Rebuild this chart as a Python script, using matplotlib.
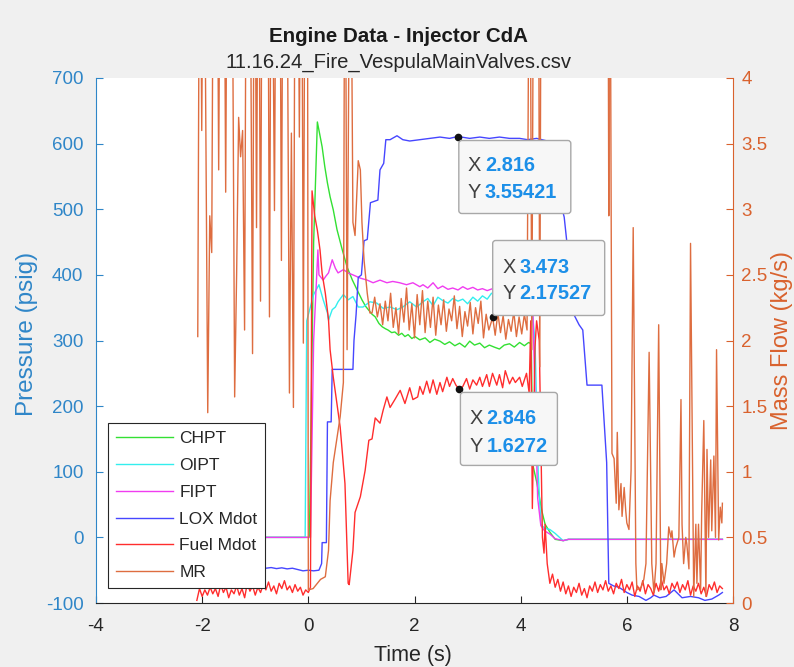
import matplotlib
matplotlib.use('Agg')
import matplotlib.pyplot as plt
from matplotlib.patches import FancyBboxPatch
from matplotlib.transforms import IdentityTransform

plt.rcParams['font.family'] = ['Liberation Sans', 'DejaVu Sans']
plt.rcParams['axes.unicode_minus'] = False

# ---------------- data ----------------
chpt_t = [-2.1, 0.0, 0.02, 0.1, 0.17, 0.22, 0.26, 0.31, 0.36, 0.41, 0.47, 0.54, 0.64, 0.73, 0.83, 0.92,
          1.01, 1.08, 1.13, 1.2, 1.26, 1.33, 1.39, 1.45, 1.5, 1.57, 1.63, 1.7, 1.76, 1.82, 1.88, 1.95,
          2.01, 2.1, 2.2, 2.29, 2.38, 2.48, 2.57, 2.66, 2.76, 2.85, 2.95, 3.04, 3.13, 3.23, 3.32, 3.41,
          3.5, 3.6, 3.69, 3.79, 3.88, 3.98, 4.07, 4.15, 4.2, 4.23, 4.3, 4.4, 4.46, 4.55, 4.65, 4.8, 4.9, 7.8]
chpt_p = [0, 0, 0, 450, 633, 612, 595, 565, 540, 519, 499, 469, 438, 412, 392, 377,
          362, 352, 347, 340, 336, 326, 321, 318, 316, 312, 313, 308, 311, 306, 309, 303,
          306, 301, 304, 297, 302, 299, 294, 298, 292, 296, 290, 299, 293, 296, 289, 293,
          290, 287, 293, 295, 290, 297, 292, 297, 295, 110, 85, 40, 20, 8, -3, -5, -3, -3]

oipt_t = [-2.1, -0.06, -0.03, 0.1, 0.2, 0.28, 0.36, 0.38, 0.45, 0.51, 0.56, 0.66, 0.75, 0.84, 0.94,
          1.03, 1.16, 1.29, 1.41, 1.54, 1.67, 1.78, 1.91, 2.04, 2.16, 2.25, 2.35, 2.44, 2.53, 2.63,
          2.72, 2.82, 2.91, 3.0, 3.1, 3.19, 3.28, 3.37, 3.45, 3.6, 3.8, 4.0, 4.2, 4.27, 4.33, 4.38,
          4.45, 4.55, 4.65, 4.8, 4.9, 7.8]
oipt_p = [0, 0, 330, 370, 385, 362, 342, 331, 347, 351, 359, 370, 362, 367, 351,
          351, 359, 357, 349, 351, 347, 351, 359, 351, 359, 364, 353, 366, 361, 357,
          364, 360, 363, 356, 366, 360, 368, 363, 372, 365, 362, 364, 360, 300, 100, 20,
          14, 12, 6, -5, -3, -3]

fipt_t = [-2.1, 0.04, 0.1, 0.18, 0.2, 0.28, 0.33, 0.38, 0.45, 0.51, 0.56, 0.66, 0.75, 0.84, 0.98,
          1.11, 1.22, 1.35, 1.48, 1.59, 1.72, 1.85, 1.97, 2.1, 2.16, 2.25, 2.35, 2.44, 2.53, 2.63,
          2.72, 2.82, 2.91, 3.0, 3.1, 3.19, 3.28, 3.37, 3.47, 3.7, 3.9, 4.1, 4.22, 4.26, 4.32, 4.38,
          4.45, 4.55, 4.65, 4.8, 4.9, 7.8]
fipt_p = [0, 0, 300, 438, 400, 392, 398, 403, 423, 410, 403, 408, 403, 400, 395,
          392, 388, 392, 388, 390, 388, 385, 388, 382, 385, 380, 388, 379, 383, 378,
          380, 377, 382, 378, 381, 377, 379, 376, 379, 378, 379, 377, 378, 250, 60, 18,
          10, 5, -2, -5, -3, -3]

lox_t = [-2.1, -1.5, -1.0, -0.8, -0.7, -0.6, -0.5, -0.4, -0.3, -0.2, -0.1, 0.0, 0.1, 0.2, 0.25,
         0.26, 0.34, 0.36, 0.43, 0.45, 0.84, 0.86, 0.9, 0.94, 1.0, 1.05, 1.11, 1.17, 1.31, 1.35,
         1.42, 1.46, 1.54, 1.67, 1.78, 1.91, 2.1, 2.29, 2.48, 2.66, 2.816, 3.04, 3.23, 3.41, 3.6,
         3.79, 3.98, 4.13, 4.3, 4.5, 4.62, 4.72, 4.82, 4.92, 5.0, 5.1, 5.17, 5.25, 5.53, 5.62,
         5.66, 5.75, 5.85, 6.0, 6.1, 6.23, 6.36, 6.45, 6.51, 6.62, 6.74, 6.89, 7.04, 7.2, 7.35,
         7.47, 7.6, 7.73, 7.8]
lox_m = [0.27, 0.27, 0.275, 0.265, 0.27, 0.262, 0.268, 0.26, 0.265, 0.255, 0.245, 0.25, 0.245, 0.25, 0.30,
         0.46, 0.46, 1.38, 1.38, 1.78, 1.78, 2.0, 2.2, 2.48, 2.5, 2.76, 2.77, 3.05, 3.07, 3.3,
         3.35, 3.53, 3.53, 3.56, 3.53, 3.52, 3.53, 3.54, 3.55, 3.54, 3.55421, 3.54, 3.55, 3.54, 3.55,
         3.54, 3.54, 3.53, 3.54, 3.52, 3.3, 3.1, 2.94, 2.56, 2.2, 2.12, 2.08, 1.66, 1.66, 1.07,
         0.15, 0.13, 0.12, 0.08, 0.06, 0.05, 0.02, 0.04, 0.06, 0.04, 0.05, 0.1, 0.04, 0.05, 0.04,
         0.02, 0.03, 0.06, 0.08]

fuel_pre_t = [-2.1, -2.05, -2.0, -1.95, -1.9, -1.85, -1.8, -1.75, -1.7, -1.65, -1.6, -1.55, -1.5, -1.45,
              -1.4, -1.35, -1.3, -1.25, -1.2, -1.15, -1.1, -1.05, -1.0, -0.95, -0.9, -0.85, -0.8, -0.75,
              -0.7, -0.65, -0.6, -0.55, -0.5, -0.45, -0.4, -0.35, -0.3, -0.25, -0.2, -0.15, -0.1, -0.05,
              0.0, 0.04]
fuel_pre_m = [0.02, 0.11, 0.05, 0.1, 0.06, 0.12, 0.07, 0.11, 0.05, 0.14, 0.08, 0.12, 0.04, 0.1,
              0.07, 0.13, 0.06, 0.11, 0.04, 0.15, 0.09, 0.13, 0.06, 0.12, 0.08, 0.14, 0.1, 0.16,
              0.09, 0.13, 0.07, 0.15, 0.11, 0.17, 0.1, 0.13, 0.08, 0.14, 0.09, 0.12, 0.06, 0.1,
              0.08, 0.12]
fuel_burn_t = [0.07, 0.12, 0.17, 0.22, 0.26, 0.32, 0.38, 0.41, 0.47, 0.6, 0.69, 0.75, 0.77, 0.84, 0.88,
               0.98, 1.07, 1.14, 1.2, 1.26, 1.35, 1.41, 1.48, 1.54, 1.63, 1.73, 1.82, 1.91, 1.97, 2.06,
               2.1, 2.16, 2.23, 2.29, 2.35, 2.42, 2.48, 2.53, 2.61, 2.66, 2.72, 2.78, 2.846, 2.91, 2.98,
               3.04, 3.1, 3.17, 3.23, 3.28, 3.36, 3.41, 3.47, 3.55, 3.6, 3.66, 3.71, 3.79, 3.85, 3.9,
               3.98, 4.03, 4.11]
fuel_burn_m = [3.14, 2.95, 2.84, 2.69, 2.51, 2.36, 2.16, 1.93, 1.72, 1.34, 0.91, 0.15, 0.14, 0.40, 0.69,
               0.81, 1.01, 1.24, 1.25, 1.41, 1.37, 1.47, 1.57, 1.49, 1.55, 1.62, 1.52, 1.64, 1.55, 1.57,
               1.65, 1.59, 1.69, 1.6, 1.70, 1.59, 1.68, 1.61, 1.72, 1.65, 1.71, 1.66, 1.6272, 1.65, 1.71,
               1.63, 1.70, 1.66, 1.72, 1.65, 1.74, 1.65, 1.75, 1.66, 1.74, 1.64, 1.77, 1.67, 1.72, 1.68,
               1.72, 1.65, 1.75]
fuel_cut_t = [4.16, 4.19, 4.22, 4.27, 4.3, 4.35, 4.41, 4.44, 4.46, 4.5]
fuel_cut_m = [1.6, 2.15, 0.72, 1.95, 2.15, 2.0, 0.5, 0.38, 0.6, 0.3]
fuel_post_t = [4.55, 4.6, 4.65, 4.7, 4.75, 4.8, 4.85, 4.9, 4.95, 5.0, 5.05, 5.1, 5.15, 5.2, 5.25, 5.3,
               5.35, 5.4, 5.45, 5.5, 5.55, 5.6, 5.65, 5.7, 5.75, 5.8, 5.85, 5.9, 5.95, 6.0, 6.05, 6.1,
               6.15, 6.2, 6.25, 6.3, 6.35, 6.4, 6.45, 6.5, 6.55, 6.6, 6.65, 6.7, 6.75, 6.8, 6.85, 6.9,
               6.95, 7.0, 7.05, 7.1, 7.15, 7.2, 7.25, 7.3, 7.35, 7.4, 7.45, 7.5, 7.55, 7.6, 7.65, 7.7,
               7.75, 7.8]
fuel_post_m = [0.15, 0.22, 0.12, 0.18, 0.09, 0.16, 0.07, 0.13, 0.05, 0.12, 0.08, 0.15, 0.06, 0.11, 0.04, 0.13,
               0.09, 0.16, 0.08, 0.14, 0.1, 0.17, 0.09, 0.13, 0.07, 0.15, 0.11, 0.18, 0.08, 0.14, 0.1, 0.16,
               0.05, 0.13, 0.09, 0.17, 0.07, 0.14, 0.11, 0.06, 0.15, 0.09, 0.18, 0.1, 0.13, 0.07, 0.15, 0.11,
               0.16, 0.08, 0.14, 0.1, 0.17, 0.06, 0.13, 0.09, 0.15, 0.07, 0.12, 0.05, 0.14, 0.1, 0.16, 0.08,
               0.13, 0.11]

mr_pre_t = [-2.083, -2.045, -2.008, -1.970, -1.895, -1.857, -1.820, -1.782, -1.726, -1.689, -1.651,
            -1.595, -1.557, -1.520, -1.445, -1.388, -1.351, -1.313, -1.276, -1.238, -1.201, -1.163,
            -1.107, -1.051, -1.013, -0.976, -0.938, -0.901, -0.863, -0.769, -0.732, -0.694, -0.638,
            -0.600, -0.544, -0.507, -0.469, -0.413, -0.356, -0.319, -0.281, -0.244, -0.206, -0.169,
            -0.131, -0.094, -0.056, -0.019, 0.0]
mr_pre_v = [2.03, 6, 3.6, 6, 1.45, 2.95, 2.67, 6, 6, 3.3, 6,
            6, 3.13, 6, 6, 1.57, 2.5, 3.7, 3.4, 3.6, 2.08, 6,
            6, 1.9, 6, 2.86, 6, 2.3, 6, 6, 2.18, 6, 2.99,
            6, 6, 2.61, 6, 6, 1.6, 3.58, 1.49, 6, 6, 3.55,
            6, 1.98, 6, 6, 0.1]
mr_ign_t = [0.09, 0.23, 0.32, 0.38, 0.41, 0.47, 0.54, 0.6, 0.66, 0.69, 0.73, 0.79, 0.84, 0.88, 0.94,
            0.98, 1.01, 1.05, 1.11, 1.16]
mr_ign_v = [0.11, 0.18, 0.2, 0.4, 0.78, 1.07, 1.26, 1.42, 1.68, 6, 1.93, 6, 2.9, 2.8, 3.37,
            3.3, 2.9, 2.61, 2.36, 2.21]
mr_burn_t = [1.20, 1.25, 1.30, 1.35, 1.40, 1.45, 1.50, 1.55, 1.60, 1.65, 1.70, 1.75, 1.80, 1.85, 1.90,
             1.95, 2.00, 2.05, 2.10, 2.15, 2.20, 2.25, 2.30, 2.35, 2.40, 2.45, 2.50, 2.55, 2.60, 2.65,
             2.70, 2.75, 2.80, 2.85, 2.90, 2.95, 3.00, 3.05, 3.10, 3.15, 3.20, 3.25, 3.30, 3.35, 3.40,
             3.473, 3.52, 3.57, 3.62, 3.67, 3.72, 3.77, 3.82, 3.87, 3.92, 3.97, 4.02, 4.07, 4.12]
mr_burn_v = [2.21, 2.33, 2.18, 2.28, 2.12, 2.30, 2.15, 2.36, 2.10, 2.25, 2.05, 2.32, 2.14, 2.40, 2.08,
             2.28, 2.02, 2.35, 2.12, 2.38, 2.06, 2.30, 2.10, 2.33, 2.04, 2.27, 2.12, 2.31, 2.07, 2.24,
             2.15, 2.34, 2.09, 2.26, 2.03, 2.22, 2.11, 2.29, 2.05, 2.25, 2.13, 2.30, 2.02, 2.20, 2.08,
             2.17527, 2.04, 2.21, 2.06, 2.19, 2.01, 2.16, 2.07, 2.22, 2.03, 2.18, 2.05, 2.20, 2.08]
mr_cut_t = [4.17, 4.21, 4.25, 4.33, 4.36, 4.39, 5.64, 5.66, 5.68]
mr_cut_v = [6, 1.93, 6, 6, 1.8, 6, 6, 2.95, 6]
mr_tail_t = [5.72, 5.76, 5.8, 5.82, 5.85, 5.89, 5.91, 5.95, 5.98, 6.0, 6.04, 6.08, 6.12, 6.17, 6.19,
             6.27, 6.32, 6.36, 6.42, 6.47, 6.51, 6.55, 6.6, 6.64, 6.66, 6.7, 6.75, 6.79, 6.83, 6.85,
             6.89, 6.92, 6.98, 7.02, 7.04, 7.07, 7.11, 7.13, 7.17, 7.2, 7.26, 7.3, 7.32, 7.35, 7.39,
             7.41, 7.45, 7.49, 7.51, 7.54, 7.58, 7.6, 7.64, 7.67, 7.69, 7.73, 7.76, 7.79, 7.8]
mr_tail_v = [1.14, 1.1, 0.76, 1.3, 0.71, 0.91, 0.66, 0.88, 0.7, 0.61, 0.56, 1.01, 2.86, 0.3, 0.1,
             0.12, 0.18, 0.3, 1.91, 0.3, 0.08, 0.3, 2.12, 0.1, 0.3, 0.15, 0.3, 0.58, 0.5, 0.55,
             0.35, 0.42, 0.5, 1.55, 0.6, 0.3, 0.5, 0.45, 0.26, 2.74, 0.05, 0.6, 0.15, 0.6, 0.1,
             0.69, 1.39, 0.05, 1.17, 0.5, 1.09, 0.55, 1.12, 0.5, 1.93, 0.48, 0.73, 0.61, 0.76]

tip_t = [2.816, 3.473, 2.846]
tip_v = [3.55421, 2.17527, 1.6272]
tip_x_txt = ['2.816', '3.473', '2.846']
tip_y_txt = ['3.55421', '2.17527', '1.6272']

p_ticks = [-100, 0, 100, 200, 300, 400, 500, 600, 700]
m_ticks = [0, 0.5, 1, 1.5, 2, 2.5, 3, 3.5, 4]
m_tick_labels = ['0', '0.5', '1', '1.5', '2', '2.5', '3', '3.5', '4']
t_ticks = [-4, -2, 0, 2, 4, 6, 8]

fuel_t = fuel_pre_t + fuel_burn_t + fuel_cut_t + fuel_post_t
fuel_m = fuel_pre_m + fuel_burn_m + fuel_cut_m + fuel_post_m
mr_t = mr_pre_t + mr_ign_t + mr_burn_t + mr_cut_t + mr_tail_t
mr_v = mr_pre_v + mr_ign_v + mr_burn_v + mr_cut_v + mr_tail_v

# ---------------- styling ----------------
BLUE = '#2f86c8'
ORANGE = '#D9622E'
DARK = '#262626'
W, H = 794, 667

fig = plt.figure(figsize=(W / 100, H / 100), dpi=100, facecolor='#f0f0f0')
ax = fig.add_axes([96 / W, 64 / H, 637 / W, 525 / H])
ax.set_facecolor('white')
ax2 = ax.twinx()

lw = 1.0
l1, = ax.plot(chpt_t, chpt_p, color='#33e033', lw=lw)
l2, = ax.plot(oipt_t, oipt_p, color='#33eeee', lw=lw)
l3, = ax.plot(fipt_t, fipt_p, color='#f03cf0', lw=lw)
l4, = ax2.plot(lox_t, lox_m, color='#4646ff', lw=lw)
l5, = ax2.plot(fuel_t, fuel_m, color='#ff2d2d', lw=lw)
l6, = ax2.plot(mr_t, mr_v, color='#de6d40', lw=lw)

ax.set_xlim(-4, 8)
ax.set_ylim(-100, 700)
ax2.set_ylim(0, 4)
ax.set_xticks(t_ticks)
ax.set_yticks(p_ticks)
ax2.set_yticks(m_ticks)
ax2.set_yticklabels(m_tick_labels)

for a in (ax, ax2):
    a.spines['top'].set_visible(False)
ax.spines['right'].set_visible(False)
ax2.spines['left'].set_visible(False)
ax2.spines['bottom'].set_visible(False)
ax.spines['left'].set_color(BLUE)
ax.spines['bottom'].set_color(DARK)
ax2.spines['right'].set_color(ORANGE)
for s in ('left', 'bottom'):
    ax.spines[s].set_linewidth(0.8)
ax2.spines['right'].set_linewidth(0.8)

TICK_FS = 13.5
ax.tick_params(axis='x', direction='in', length=5, width=0.8, colors=DARK, labelsize=TICK_FS, pad=11)
ax.tick_params(axis='y', direction='in', length=5, width=0.8, colors=BLUE, labelsize=TICK_FS, pad=9)
ax2.tick_params(axis='y', direction='in', length=5, width=0.8, colors=ORANGE, labelsize=TICK_FS, pad=6)

ax.set_xlabel('Time (s)', fontsize=15.5, color=DARK)
ax.xaxis.set_label_coords(0.498, -0.08)
ax.set_ylabel('Pressure (psig)', fontsize=17.5, color=BLUE)
ax.yaxis.set_label_coords(-0.091, 0.512)
ax2.set_ylabel('Mass Flow (kg/s)', fontsize=17, color=ORANGE)
ax2.yaxis.set_label_coords(1.06, 0.5)

fig.text(398 / W, 1 - 37 / H, 'Engine Data - Injector CdA', ha='center', va='center',
         fontsize=14.8, fontweight='bold', color='#1a1a1a')
fig.text(398 / W, 1 - 62 / H, '11.16.24_Fire_VespulaMainValves.csv', ha='center', va='center',
         fontsize=14.6, color=DARK)

leg = ax2.legend([l1, l2, l3, l4, l5, l6], ['CHPT', 'OIPT', 'FIPT', 'LOX Mdot', 'Fuel Mdot', 'MR'],
                 loc='lower left', bbox_to_anchor=(0.0188, 0.0286), borderaxespad=0,
                 fancybox=False, framealpha=1, edgecolor=DARK, fontsize=12.5,
                 handlelength=3.3, handletextpad=0.35, labelspacing=0.67, borderpad=0.45)
leg.get_frame().set_linewidth(0.8)
for txt in leg.get_texts():
    txt.set_color(DARK)
leg.set_zorder(50)

# ---------------- data tips ----------------
ax2.plot(tip_t, tip_v, 'o', color='#111111', ms=4.5, zorder=30, clip_on=False)

# box offsets in pixels relative to the point (dx0, dx1, dy_top, dy_bottom; y measured downward)
tip_boxes = [(1, 113, 4, 77), (0, 112, -77, -2), (1, 98, 3, 76)]
tip_lines = [(29, 56), (-50, -24), (29, 57)]
for t, v, xs, ys, (bx0, bx1, bt, bb), (ly1, ly2) in zip(tip_t, tip_v, tip_x_txt, tip_y_txt,
                                                       tip_boxes, tip_lines):
    px, py = ax2.transData.transform((t, v))
    box = FancyBboxPatch((px + bx0, py - bb), bx1 - bx0, bb - bt,
                         boxstyle='round,pad=0,rounding_size=3', transform=IdentityTransform(),
                         fc='#f7f7f7', ec='#a8a8a8', lw=1.0, zorder=20)
    fig.add_artist(box)
    for lab, val, dy in (('X', xs, ly1), ('Y', ys, ly2)):
        fig.text(px + 10, py - dy, lab, transform=IdentityTransform(), ha='left', va='center',
                 fontsize=14.4, color='#404040', zorder=21)
        fig.text(px + 27, py - dy, val, transform=IdentityTransform(), ha='left', va='center',
                 fontsize=14.4, color='#1c8fe8', fontweight='bold', zorder=21)

fig.savefig('out.png', dpi=100, facecolor=fig.get_facecolor())
